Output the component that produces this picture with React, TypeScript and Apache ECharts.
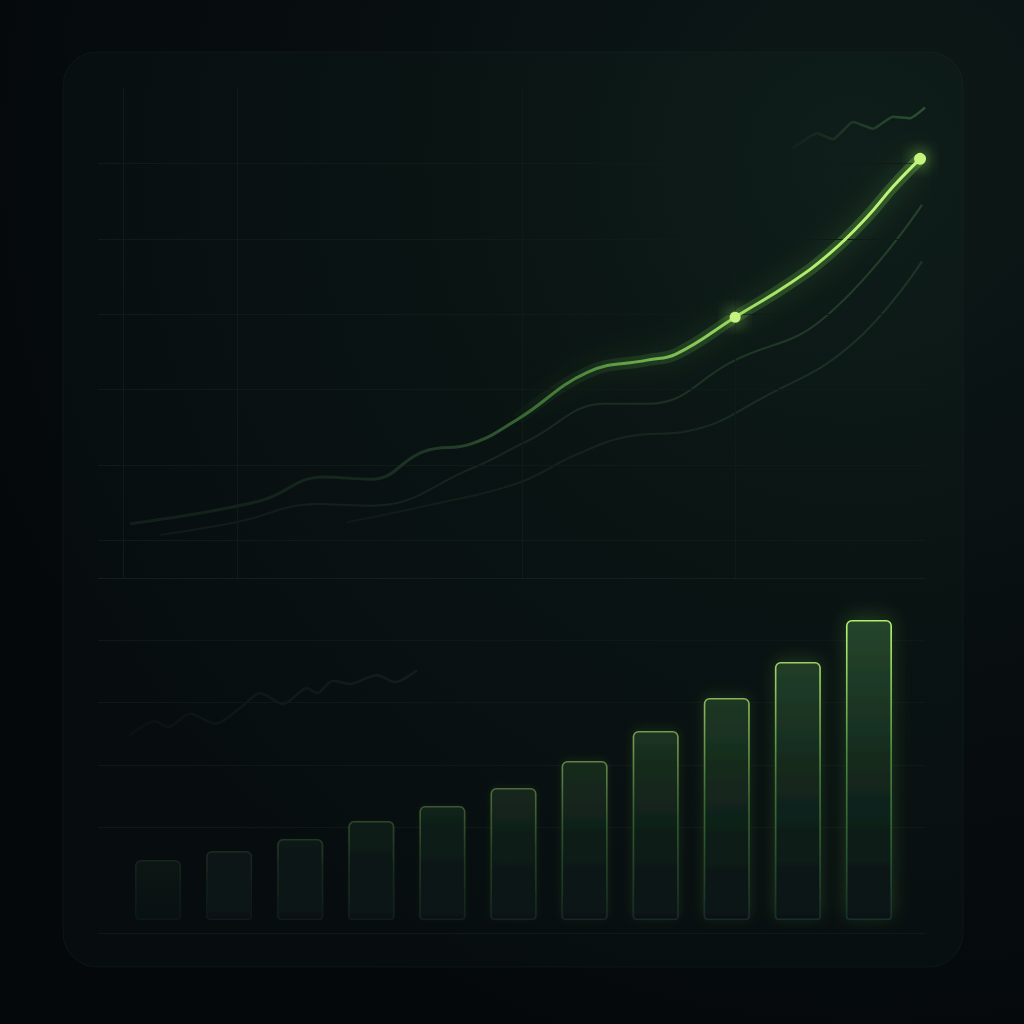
import React, { useEffect, useRef } from "react";
import * as echarts from "echarts";

// ---- Data ----
// Top chart: main rising line
const mainX = [0.97, 4.87, 6.83, 8.25, 9.86, 11.28, 12.7, 14.81, 16.6, 17.47, 19.26, 20.92, 22.13, 23.25, 24.03, 24.85];
const mainY = [0.22, 0.52, 0.84, 0.81, 1.18, 1.28, 1.61, 2.23, 2.39, 2.47, 2.96, 3.41, 3.81, 4.29, 4.69, 5.06];
const highlightIdx = [10, 15];
// Second (middle) faint line
const midX = [1.87, 4.17, 6.65, 8.25, 11.28, 13.03, 15.36, 16.6, 19.26, 21.92, 24.91];
const midY = [0.07, 0.24, 0.48, 0.46, 0.95, 1.33, 1.81, 1.81, 2.39, 2.94, 4.45];
// Third (lower) faint line
const lowX = [7.53, 10.04, 12.7, 14.42, 16.05, 17.84, 20.13, 22.79, 24.91];
const lowY = [0.24, 0.47, 0.76, 1.13, 1.38, 1.45, 1.9, 2.6, 3.7];
// Top-right small squiggle
const sqTopX = [21.01, 21.74, 22.22, 22.82, 23.43, 24.03, 24.55, 25.0];
const sqTopY = [5.2, 5.4, 5.32, 5.55, 5.46, 5.62, 5.6, 5.74];
// Bottom-left small squiggle
const sqBotX = [0.97, 1.72, 2.12, 2.78, 3.54, 4.29, 4.9, 5.59, 6.32, 6.62, 7.1, 7.62, 8.43, 8.98, 9.64];
const sqBotY = [3.18, 3.4, 3.31, 3.52, 3.36, 3.61, 3.85, 3.68, 3.93, 3.85, 4.05, 4.0, 4.14, 4.03, 4.22];
// Grid guide values
const topHLines = [0, 1, 2, 3, 4, 5];
const topVLines = [0.76, 4.2, 12.82, 19.26];
const botHLines = [1.7, 2.7, 3.7, 4.7];
// Bars
const barCats = ["1", "2", "3", "4", "5", "6", "7", "8", "9", "10", "11"];
const barValues = [20, 23, 27, 33, 38, 44, 53, 63, 74, 86, 100];

// ---- helpers ----
function hex(c: string) {
  const n = parseInt(c.slice(1), 16);
  return [(n >> 16) & 255, (n >> 8) & 255, n & 255];
}
function mix(a: string, b: string, t: number) {
  const A = hex(a), B = hex(b);
  const r = A.map((v, i) => Math.round(v + (B[i] - v) * t));
  return "rgb(" + r.join(",") + ")";
}
const pairs = (xs: number[], ys: number[]) => xs.map((x, i) => [x, ys[i]]);
const hGrad = (stops: [number, string][]) => ({
  type: "linear", x: 0, y: 0, x2: 1, y2: 0,
  colorStops: stops.map(([offset, color]) => ({ offset, color })),
});
const vGrad = (stops: [number, string][]) => ({
  type: "linear", x: 0, y: 0, x2: 0, y2: 1,
  colorStops: stops.map(([offset, color]) => ({ offset, color })),
});

const gridLineColor = "#101b18";

function barStyle(i: number) {
  const t = i / (barValues.length - 1);
  const tb = Math.pow(t, 1.5);
  const topBorder = mix("#15241d", "#b4ee6e", tb);
  const midBorder = mix("#111c18", "#4a8a3c", tb);
  const botBorder = mix("#0d1715", "#16302a", t);
  return {
    color: vGrad([
      [0, mix("#0c1614", "#25452b", tb)],
      [0.55, mix("#0a1312", "#12261c", tb)],
      [1, "#081112"],
    ]),
    borderColor: vGrad([
      [0, topBorder],
      [0.04, topBorder],
      [0.45, midBorder],
      [1, botBorder],
    ]),
    borderWidth: 1.6,
    borderRadius: [5, 5, 3, 3],
    shadowBlur: 18 * tb,
    shadowOffsetY: -4 * tb,
    shadowColor: "rgba(120,210,80," + (0.2 * tb).toFixed(3) + ")",
  };
}

const mainData = mainX.map((x, i) =>
  highlightIdx.includes(i)
    ? { value: [x, mainY[i]], symbol: "circle", symbolSize: i === 15 ? 12 : 11 }
    : { value: [x, mainY[i]], symbol: "none" }
);

const option: any = {
  animation: false,
  backgroundColor: "#05090b",
  graphic: [
    {
      type: "rect",
      z: -20,
      silent: true,
      shape: { x: 0, y: 0, width: 1024, height: 1024 },
      style: {
        fill: {
          type: "radial", x: 0.85, y: 0.15, r: 0.95,
          colorStops: [
            { offset: 0, color: "#0d1917" },
            { offset: 0.55, color: "#080e10" },
            { offset: 1, color: "#04080a" },
          ],
        },
      },
    },
    {
      type: "rect",
      z: -19,
      silent: true,
      shape: { x: 63, y: 52, width: 900, height: 915, r: 34 },
      style: {
        fill: {
          type: "radial", x: 0.88, y: 0.12, r: 1.0,
          colorStops: [
            { offset: 0, color: "#0f1e1a" },
            { offset: 0.45, color: "#0a1413" },
            { offset: 1, color: "#070d0f" },
          ],
        },
        stroke: "rgba(40,70,55,0.18)",
        lineWidth: 1,
      },
    },
  ],
  grid: [
    { left: 98, top: 88, width: 827, height: 490 },
    { left: 122.5, top: 620, width: 782, height: 300 },
    { left: 98, top: 578, width: 827, height: 355 },
  ],
  xAxis: [
    {
      gridIndex: 0, type: "value", min: 0, max: 25,
      axisLine: { show: true, onZero: false, lineStyle: { color: "#121f1b", width: 1 } },
      axisTick: { show: false }, axisLabel: { show: false }, splitLine: { show: false },
    },
    {
      gridIndex: 1, type: "category", data: barCats, show: false,
    },
    {
      gridIndex: 2, type: "value", min: 0, max: 25,
      axisLine: { show: true, onZero: false, lineStyle: { color: "#0f1a17", width: 1 } },
      axisTick: { show: false }, axisLabel: { show: false }, splitLine: { show: false },
    },
  ],
  yAxis: [
    { gridIndex: 0, type: "value", min: -0.5, max: 6, show: false },
    { gridIndex: 1, type: "value", min: 0, max: 100, show: false },
    { gridIndex: 2, type: "value", min: 0, max: 5.7, show: false },
  ],
  series: [
    // grid guides (top)
    {
      type: "line", xAxisIndex: 0, yAxisIndex: 0, data: [], z: 1, silent: true,
      markLine: {
        silent: true, symbol: ["none", "none"], label: { show: false },
        lineStyle: { type: "solid", color: gridLineColor, width: 1 },
        data: [
          ...topHLines.map((v) => ({ yAxis: v })),
          ...topVLines.map((v) => ({ xAxis: v })),
        ],
      },
    },
    // grid guides (bottom)
    {
      type: "line", xAxisIndex: 2, yAxisIndex: 2, data: [], z: 1, silent: true,
      markLine: {
        silent: true, symbol: ["none", "none"], label: { show: false },
        lineStyle: { type: "solid", color: "#0e1916", width: 1 },
        data: botHLines.map((v) => ({ yAxis: v })),
      },
    },
    // bottom-left squiggle
    {
      type: "line", xAxisIndex: 2, yAxisIndex: 2, z: 2, silent: true,
      data: pairs(sqBotX, sqBotY), showSymbol: false, smooth: 0.3,
      lineStyle: { width: 2.5, color: hGrad([[0, "#0a1210"], [0.5, "#0f1916"], [1, "#131e1b"]]) },
    },
    // low faint line
    {
      type: "line", xAxisIndex: 0, yAxisIndex: 0, z: 3, silent: true,
      data: pairs(lowX, lowY), showSymbol: false, smooth: 0.45,
      lineStyle: { width: 2, color: hGrad([[0, "#0f1a16"], [0.5, "#15261d"], [1, "#1d3524"]]) },
    },
    // middle faint line
    {
      type: "line", xAxisIndex: 0, yAxisIndex: 0, z: 3, silent: true,
      data: pairs(midX, midY), showSymbol: false, smooth: 0.45,
      lineStyle: { width: 2, color: hGrad([[0, "#0f1a16"], [0.5, "#16281e"], [1, "#24422b"]]) },
    },
    // top-right squiggle
    {
      type: "line", xAxisIndex: 0, yAxisIndex: 0, z: 3, silent: true,
      data: pairs(sqTopX, sqTopY), showSymbol: false, smooth: 0.15,
      lineStyle: { width: 2.5, color: hGrad([[0, "#12211a"], [0.4, "#1d3625"], [1, "#2b5230"]]) },
    },
    // glow under the bright part of the main line
    {
      type: "line", xAxisIndex: 0, yAxisIndex: 0, z: 4, silent: true,
      data: pairs(mainX.slice(6), mainY.slice(6)), showSymbol: false, smooth: 0.45,
      lineStyle: {
        width: 12,
        color: hGrad([[0, "rgba(90,170,70,0.03)"], [0.3, "rgba(100,190,70,0.16)"], [1, "rgba(120,210,80,0.28)"]]),
        shadowBlur: 26,
        shadowColor: "rgba(120,220,80,0.75)",
      },
    },
    // main line
    {
      type: "line", xAxisIndex: 0, yAxisIndex: 0, z: 5, silent: true,
      data: mainData, smooth: 0.45, showSymbol: true,
      lineStyle: {
        width: 3,
        color: hGrad([
          [0, "#111f19"], [0.3, "#16281f"], [0.42, "#24402a"], [0.52, "#3f7236"], [0.62, "#5f9f46"],
          [0.74, "#92d25b"], [0.86, "#b4ec6e"], [1, "#c6f57e"],
        ]),
      },
      itemStyle: { color: "#c4f47d", shadowBlur: 16, shadowColor: "rgba(170,240,100,0.9)" },
    },
    // bars
    {
      type: "bar", xAxisIndex: 1, yAxisIndex: 1, z: 5, silent: true,
      barWidth: 46,
      data: barValues.map((v, i) => ({ value: v, itemStyle: barStyle(i) })),
    },
  ],
};

export default function App() {
  const ref = useRef<HTMLDivElement>(null);
  useEffect(() => {
    document.body.style.margin = "0";
    const chart = echarts.init(ref.current as HTMLDivElement, null, {
      renderer: "svg",
      width: 1024,
      height: 1024,
    });
    chart.setOption(option);
    return () => chart.dispose();
  }, []);
  return <div ref={ref} style={{ width: 1024, height: 1024 }} />;
}
